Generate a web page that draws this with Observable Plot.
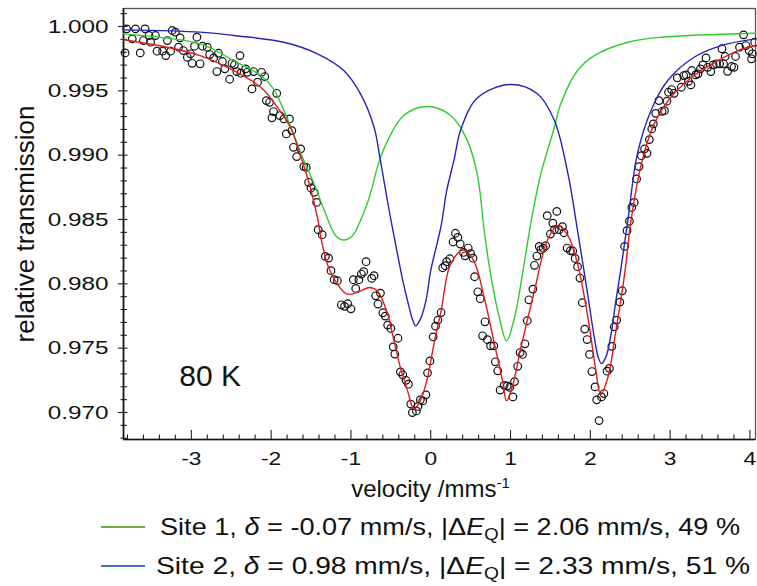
<!DOCTYPE html>
<html>
<head>
<meta charset="utf-8">
<script src="https://cdn.jsdelivr.net/npm/d3@7"></script>
<script src="https://cdn.jsdelivr.net/npm/@observablehq/plot@0.6"></script>
<style>
html,body{margin:0;padding:0;background:#fff;}
#wrap{position:relative;width:757px;height:586px;overflow:hidden;font-family:"Liberation Sans",Arial,Helvetica,sans-serif;color:#111;background:#fff;}
#chart svg{display:block;}
.row{position:absolute;left:0;width:757px;height:36px;}
.sw{position:absolute;left:101px;top:17px;width:44px;height:2px;}
.tx{position:absolute;top:0;line-height:36px;font-size:24px;white-space:nowrap;transform-origin:0 50%;}
.tx sub{font-size:0.68em;vertical-align:-0.3em;line-height:0;}
</style>
</head>
<body>
<div id="wrap"><div id="chart"></div><div id="legend"></div></div>
<script>
// measured spectrum: [velocity mm/s, relative transmission]
const points = [
[-3.83,0.99795],[-3.81,0.99982],[-3.74,0.99904],[-3.70,0.99982],[-3.64,0.99795],[-3.60,0.99891],[-3.58,0.99982],[-3.53,0.99930],[-3.51,0.99878],[-3.45,0.99930],
[-3.43,0.99808],[-3.36,0.99808],[-3.32,0.99774],[-3.30,0.99891],[-3.26,0.99808],[-3.24,0.99969],[-3.20,0.99956],[-3.16,0.99839],[-3.14,0.99912],[-3.10,0.99813],
[-3.05,0.99761],[-3.01,0.99788],[-2.99,0.99714],[-2.96,0.99847],[-2.93,0.99917],[-2.89,0.99710],[-2.86,0.99847],[-2.80,0.99839],[-2.77,0.99782],[-2.72,0.99756],
[-2.68,0.99650],[-2.66,0.99792],[-2.61,0.99728],[-2.58,0.99671],[-2.52,0.99590],[-2.49,0.99714],[-2.46,0.99702],[-2.43,0.99650],[-2.39,0.99774],[-2.38,0.99637],
[-2.32,0.99671],[-2.30,0.99644],[-2.24,0.99515],[-2.22,0.99650],[-2.17,0.99567],[-2.12,0.99644],[-2.08,0.99611],[-2.06,0.99424],[-2.02,0.99411],[-1.99,0.99290],
[-1.97,0.99339],[-1.93,0.99481],[-1.89,0.99308],[-1.84,0.99282],[-1.81,0.99165],[-1.77,0.99282],[-1.74,0.99191],[-1.72,0.99061],[-1.68,0.98989],[-1.63,0.99049],
[-1.59,0.98911],[-1.56,0.98905],[-1.53,0.98789],[-1.50,0.98745],[-1.46,0.98711],[-1.43,0.98633],[-1.41,0.98421],[-1.36,0.98382],[-1.32,0.98213],[-1.28,0.98200],
[-1.25,0.98102],[-1.21,0.98032],[-1.17,0.98024],[-1.12,0.97837],[-1.08,0.97825],[-1.04,0.97845],[-1.00,0.97806],[-0.97,0.98032],[-0.94,0.97964],[-0.90,0.98032],
[-0.87,0.98076],[-0.84,0.98094],[-0.81,0.98172],[-0.74,0.98042],[-0.71,0.98063],[-0.69,0.97907],[-0.66,0.97843],[-0.63,0.97928],[-0.60,0.97775],[-0.57,0.97749],
[-0.54,0.97679],[-0.50,0.97653],[-0.47,0.97510],[-0.45,0.97454],[-0.41,0.97577],[-0.38,0.97316],[-0.35,0.97293],[-0.31,0.97250],[-0.28,0.97220],[-0.25,0.97065],
[-0.23,0.96999],[-0.18,0.97012],[-0.16,0.97047],[-0.13,0.97098],[-0.10,0.97090],[-0.06,0.97137],[-0.04,0.97308],[-0.01,0.97401],[0.03,0.97588],[0.06,0.97671],
[0.09,0.97718],[0.13,0.97777],[0.15,0.98125],[0.18,0.98141],[0.20,0.98172],[0.24,0.98195],[0.28,0.98325],[0.31,0.98393],[0.34,0.98361],[0.37,0.98309],
[0.41,0.98244],[0.43,0.98218],[0.47,0.98278],[0.50,0.98234],[0.53,0.98199],[0.55,0.98055],[0.59,0.97938],[0.62,0.97884],[0.68,0.97705],[0.65,0.97596],
[0.71,0.97566],[0.75,0.97518],[0.79,0.97518],[0.81,0.97394],[0.84,0.97324],[0.87,0.97174],[0.92,0.97211],[0.96,0.97207],[0.99,0.97195],[1.03,0.97121],
[1.05,0.97240],[1.09,0.97359],[1.12,0.97466],[1.15,0.97451],[1.18,0.97534],[1.21,0.97713],[1.23,0.97876],[1.28,0.97959],[1.30,0.98144],[1.33,0.98216],
[1.36,0.98291],[1.38,0.98265],[1.41,0.98277],[1.44,0.98296],[1.46,0.98530],[1.50,0.98387],[1.53,0.98471],[1.55,0.98421],[1.58,0.98563],[1.61,0.98421],
[1.65,0.98444],[1.67,0.98397],[1.71,0.98278],[1.75,0.98257],[1.78,0.98255],[1.81,0.98197],[1.84,0.98133],[1.87,0.98045],[1.90,0.97853],[1.93,0.97648],
[1.96,0.97567],[1.99,0.97451],[2.02,0.97318],[2.06,0.97199],[2.08,0.97098],[2.11,0.96937],[2.14,0.97121],[2.17,0.97147],[2.21,0.97321],[2.24,0.97343],
[2.27,0.97514],[2.30,0.97666],[2.33,0.97718],[2.37,0.97858],[2.40,0.97946],[2.43,0.98291],[2.46,0.98413],[2.49,0.98487],[2.52,0.98594],[2.55,0.98633],
[2.58,0.98815],[2.61,0.98911],[2.64,0.98996],[2.68,0.99049],[2.71,0.99014],[2.74,0.99121],[2.77,0.99204],[2.79,0.99243],[2.82,0.99325],[2.86,0.99424],
[2.90,0.99341],[2.93,0.99346],[2.96,0.99419],[2.98,0.99489],[3.02,0.99510],[3.05,0.99481],[3.09,0.99601],[3.14,0.99528],[3.17,0.99619],[3.20,0.99624],
[3.23,0.99574],[3.26,0.99546],[3.27,0.99658],[3.32,0.99624],[3.35,0.99632],[3.38,0.99671],[3.41,0.99702],[3.45,0.99756],[3.47,0.99683],[3.51,0.99650],
[3.54,0.99702],[3.58,0.99710],[3.62,0.99710],[3.65,0.99827],[3.67,0.99710],[3.69,0.99767],[3.72,0.99652],[3.77,0.99689],[3.80,0.99683],[3.82,0.99767],
[3.87,0.99839],[3.92,0.99935],[3.95,0.99852],[3.99,0.99813],[4.02,0.99749],[4.03,0.99788],[4.06,0.99878]
];
// fitted sub-spectra
const site1Fit = [
[-3.85,0.99943],[-2.89,0.99865],[-2.47,0.99735],[-2.13,0.99619],[-1.97,0.99515],[-1.84,0.99346],[-1.72,0.99166],[-1.59,0.98958],[-1.46,0.98776],[-1.34,0.98582],
[-1.19,0.98374],[-1.09,0.98341],[-0.98,0.98374],[-0.88,0.98491],[-0.77,0.98672],[-0.65,0.98944],[-0.54,0.99113],[-0.34,0.99308],[-0.04,0.99378],[0.25,0.99308],
[0.46,0.99113],[0.59,0.98828],[0.67,0.98413],[0.75,0.98076],[0.86,0.97738],[0.95,0.97557],[1.05,0.97738],[1.17,0.98154],[1.26,0.98491],[1.38,0.98854],
[1.55,0.99217],[1.63,0.99399],[1.84,0.99658],[2.05,0.99774],[2.47,0.99878],[2.89,0.99917],[4.07,0.99948]
];
const site2Fit = [
[-3.85,0.99974],[-2.89,0.99956],[-2.47,0.99930],[-1.84,0.99878],[-1.42,0.99788],[-1.09,0.99658],[-0.88,0.99476],[-0.71,0.99217],[-0.63,0.98957],[-0.52,0.98568],
[-0.40,0.98179],[-0.34,0.97998],[-0.29,0.97868],[-0.23,0.97726],[-0.19,0.97674],[-0.13,0.97726],[-0.06,0.97868],[0.00,0.98102],[0.13,0.98450],[0.20,0.98724],
[0.29,0.98957],[0.38,0.99206],[0.59,0.99448],[1.00,0.99549],[1.34,0.99476],[1.55,0.99269],[1.72,0.98854],[1.84,0.98413],[1.97,0.97907],[2.05,0.97583],
[2.10,0.97427],[2.14,0.97380],[2.20,0.97440],[2.26,0.97609],[2.32,0.97868],[2.38,0.98102],[2.47,0.98491],[2.59,0.99010],[2.76,0.99346],[2.97,0.99580],
[3.30,0.99761],[3.64,0.99852],[4.07,0.99904]
];
const totalFit = [
[-3.85,0.99897],[-3.30,0.99839],[-2.89,0.99774],[-2.47,0.99658],[-2.13,0.99528],[-1.92,0.99372],[-1.76,0.99217],[-1.61,0.98957],[-1.51,0.98750],[-1.42,0.98516],
[-1.36,0.98309],[-1.28,0.98127],[-1.17,0.97998],[-1.05,0.97920],[-0.92,0.97933],[-0.77,0.97972],[-0.67,0.97946],[-0.54,0.97765],[-0.48,0.97609],[-0.38,0.97349],
[-0.29,0.97168],[-0.21,0.97026],[-0.13,0.97090],[-0.04,0.97272],[0.04,0.97531],[0.13,0.97790],[0.25,0.98154],[0.41,0.98263],[0.54,0.98179],[0.67,0.97894],
[0.79,0.97557],[0.90,0.97246],[0.95,0.97090],[1.03,0.97220],[1.13,0.97505],[1.30,0.97946],[1.46,0.98335],[1.59,0.98452],[1.72,0.98374],[1.84,0.98154],
[1.97,0.97738],[2.07,0.97324],[2.13,0.97142],[2.22,0.97272],[2.32,0.97635],[2.43,0.98076],[2.51,0.98491],[2.64,0.98932],[2.80,0.99243],[3.01,0.99450],
[3.30,0.99619],[3.60,0.99735],[3.85,0.99813],[4.07,0.99852]
];
const xDomain = [-3.85, 4.07];
const yDomain = [0.9679, 1.0014];
const xMajor = [-3, -2, -1, 0, 1, 2, 3, 4];
const yMajor = [0.970, 0.975, 0.980, 0.985, 0.990, 0.995, 1.000];
const xLabel = "velocity /mms";
const xLabelSup = "-1";
const yLabel = "relative transmission";
const annotations = [{text: "80 K", v: -3.15, T: 0.97282}];
const legendSites = ["Site 1", "Site 2"];
const legendDelta = ["-0.07", "0.98"];
const legendDEQ = ["2.06", "2.33"];
const legendShare = ["49", "51"];
const legendColors = ["#70ad47", "#4472c4"];

const xMinor = d3.range(-19, 21).map(i => i / 5).filter(v => Math.abs(v - Math.round(v)) > 1e-6);
const yMinor = d3.range(968, 1002).filter(i => i % 5 !== 0).map(i => i / 1000);

const W = 757, H = 510, mL = 123, mR = 2, mT = 8, mB = 71;
const frameW = W - mL - mR, frameH = H - mT - mB;
// pixel sizes of the tick marks expressed in data units
const pxX = (xDomain[1] - xDomain[0]) / frameW;
const pxY = (yDomain[1] - yDomain[0]) / frameH;

const chart = Plot.plot({
  width: W, height: H,
  marginLeft: mL, marginRight: mR, marginTop: mT, marginBottom: mB,
  x: {domain: xDomain},
  y: {domain: yDomain},
  style: {fontFamily: "'Liberation Sans', Arial, Helvetica, sans-serif", background: "#fff", color: "#111", overflow: "visible"},
  marks: [
    Plot.frame({stroke: "#555", strokeWidth: 1.3}),
    Plot.ruleX(xMajor, {x: d => d, y1: yDomain[0], y2: yDomain[0] + 9 * pxY, stroke: "#222", strokeWidth: 1.1}),
    Plot.ruleX(xMinor, {x: d => d, y1: yDomain[0], y2: yDomain[0] + 4.5 * pxY, stroke: "#222", strokeWidth: 1.1}),
    Plot.ruleY(yMajor, {y: d => d, x1: xDomain[0] - 5 * pxX, x2: xDomain[0] + 4.5 * pxX, stroke: "#222", strokeWidth: 1.1}),
    Plot.ruleY(yMinor, {y: d => d, x1: xDomain[0] - 2.5 * pxX, x2: xDomain[0] + 4 * pxX, stroke: "#222", strokeWidth: 1.1}),
    Plot.ruleX([xDomain[0]], {stroke: "#111", strokeWidth: 1.6}),
    Plot.ruleY([yDomain[0]], {stroke: "#111", strokeWidth: 1.6}),
    Plot.dot(points, {x: d => d[0], y: d => d[1], r: 3.8, stroke: "#111", strokeWidth: 1.2, fill: "none"}),
    Plot.line(site1Fit, {x: d => d[0], y: d => d[1], stroke: "#2ecc2e", strokeWidth: 1.4, curve: "catmull-rom"}),
    Plot.line(site2Fit, {x: d => d[0], y: d => d[1], stroke: "#2424b8", strokeWidth: 1.4, curve: "catmull-rom"}),
    Plot.line(totalFit, {x: d => d[0], y: d => d[1], stroke: "#e01b1b", strokeWidth: 1.4, curve: "catmull-rom"}),
    Plot.axisX(xMajor, {tickSize: 0, tickPadding: 12, tickFormat: d => String(d), fontSize: 19, label: null}),
    Plot.axisY(yMajor, {tickSize: 0, tickPadding: 15, tickFormat: d => d.toFixed(3), fontSize: 19, label: null}),
    Plot.text(annotations, {x: "v", y: "T", text: "text", textAnchor: "start", lineAnchor: "middle", fontSize: 30, fill: "#111"}),
    Plot.text([yLabel], {text: d => d, frameAnchor: "left", textAnchor: "middle", rotate: -90, dx: -90, lineAnchor: "bottom", fontSize: 26, fill: "#111"}),
    Plot.text([xLabel], {text: d => d, frameAnchor: "bottom", textAnchor: "middle", dx: -9, dy: 50, lineAnchor: "middle", fontSize: 24, fill: "#111"})
  ]
});
document.getElementById("chart").appendChild(chart);

// widen tick labels like the reference
function stretch(selector, sx) {
  chart.querySelectorAll(selector).forEach(t => {
    const x = +t.getAttribute("x") || 0, y = +t.getAttribute("y") || 0;
    const tr = t.getAttribute("transform") || "";
    t.setAttribute("transform", `${tr} translate(${x},${y}) scale(${sx},1) translate(${-x},${-y})`);
  });
}
stretch('g[aria-label="y-axis tick label"] text', 1.28);
stretch('g[aria-label="x-axis tick label"] text', 1.2);

// superscript on the x label
chart.querySelectorAll("text").forEach(t => {
  if (t.textContent === xLabel) {
    const ts = document.createElementNS("http://www.w3.org/2000/svg", "tspan");
    ts.setAttribute("dy", "-9");
    ts.setAttribute("font-size", "15");
    ts.textContent = xLabelSup;
    t.appendChild(ts);
  }
});

// legend below the plot
const legend = document.getElementById("legend");
const rowTops = [509, 548];
const textLeft = [160, 156];
const textWidth = [580, 594];
legendSites.forEach((s, i) => {
  const row = document.createElement("div");
  row.className = "row";
  row.style.top = rowTops[i] + "px";
  row.innerHTML = `<span class="sw" style="background:${legendColors[i]}"></span>` +
    `<span class="tx" style="left:${textLeft[i]}px">${s}, <i>δ</i> = ${legendDelta[i]} mm/s, |Δ<i>E</i><sub>Q</sub>| = ${legendDEQ[i]} mm/s, ${legendShare[i]} %</span>`;
  legend.appendChild(row);
  const tx = row.querySelector(".tx");
  const w = tx.getBoundingClientRect().width;
  if (w > 0) tx.style.transform = `scaleX(${textWidth[i] / w})`;
});
</script>
</body>
</html>
